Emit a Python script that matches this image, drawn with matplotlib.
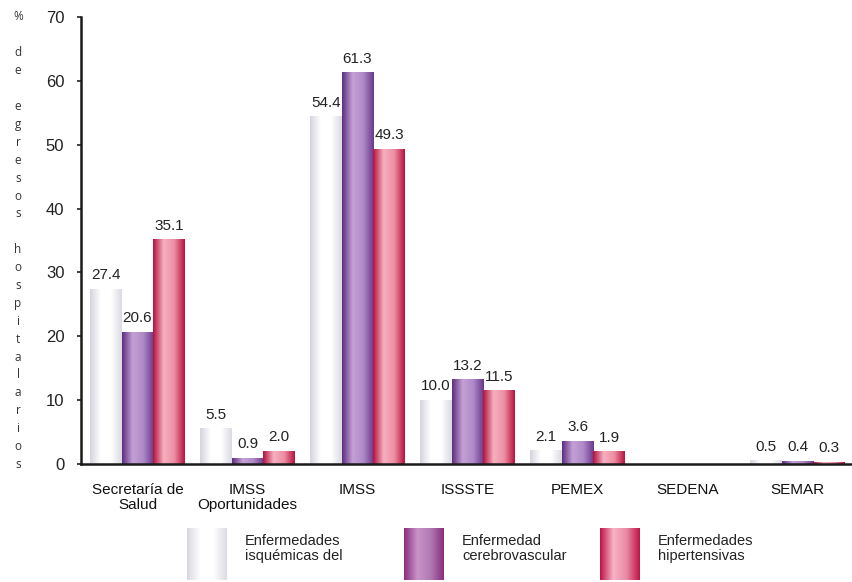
import numpy as np
import matplotlib
matplotlib.use('Agg')
import matplotlib.pyplot as plt
from matplotlib.colors import LinearSegmentedColormap

# data
categories = ['Secretaría de\nSalud', 'IMSS\nOportunidades', 'IMSS', 'ISSSTE', 'PEMEX', 'SEDENA', 'SEMAR']
isquemicas = [27.4, 5.5, 54.4, 10.0, 2.1, None, 0.5]
cerebrovascular = [20.6, 0.9, 61.3, 13.2, 3.6, None, 0.4]
hipertensivas = [35.1, 2.0, 49.3, 11.5, 1.9, None, 0.3]
series_names = ['Enfermedades\nisquémicas del', 'Enfermedad\ncerebrovascular', 'Enfermedades\nhipertensivas']
y_ticks = [0, 10, 20, 30, 40, 50, 60, 70]
ylabel_text = '% de egresos hospitalarios'

# cylinder-like gradients (edge, highlight, edge)
gradients = [
    ['#d4d4e0', '#ffffff', '#ffffff', '#dadae4'],
    ['#5e2f80', '#c4a0d6', '#b08ac8', '#6a3a8c'],
    ['#b5123f', '#f6b0c0', '#ee8ea4', '#b8163f'],
]
legend_gradients = [
    ['#d8d8e2', '#ffffff', '#ffffff', '#dcdce4'],
    ['#8a2f80', '#c993c8', '#b27ab4', '#8a2f80'],
    ['#bf1448', '#f7b3c6', '#e88aa4', '#bf1448'],
]
cmaps = [LinearSegmentedColormap.from_list('g%d' % i, g) for i, g in enumerate(gradients)]
leg_cmaps = [LinearSegmentedColormap.from_list('l%d' % i, g) for i, g in enumerate(legend_gradients)]

plt.rcParams['font.family'] = ['Liberation Sans', 'DejaVu Sans']

fig = plt.figure(figsize=(8.52, 5.82), dpi=100)
ax = fig.add_axes([81 / 852, 1 - 464 / 582, 1 - 81 / 852, (464 - 17) / 582])

x = np.arange(len(categories))
width = 0.286
grad = np.linspace(0, 1, 64).reshape(1, -1)

for i, vals in enumerate([isquemicas, cerebrovascular, hipertensivas]):
    heights = [v if v is not None else 0 for v in vals]
    bars = ax.bar(x + (i - 1) * width, heights, width, color='none', edgecolor='none')
    for b, v in zip(bars, vals):
        if v is None:
            continue
        x0 = b.get_x()
        ax.imshow(grad, cmap=cmaps[i], extent=(x0, x0 + b.get_width(), 0, v),
                  aspect='auto', zorder=2, interpolation='bilinear')
        ax.text(x0 + b.get_width() / 2, v + 1.1, '%.1f' % v, ha='center', va='bottom',
                fontsize=11, color='#222222', clip_on=False)

ax.set_xlim(-0.514, 6.495)
ax.set_ylim(0, 70)
ax.set_yticks(y_ticks)
ax.set_yticklabels([str(t) for t in y_ticks], fontsize=12, color='#333333')
ax.set_xticks(x)
ax.set_xticklabels(categories, fontsize=11, color='#111111', linespacing=1.05)
ax.tick_params(axis='x', length=0, pad=14)
ax.tick_params(axis='y', length=3, width=1.2, pad=9, colors='#222222')
for s in ['top', 'right']:
    ax.spines[s].set_visible(False)
for s in ['left', 'bottom']:
    ax.spines[s].set_linewidth(1.8)
    ax.spines[s].set_color('#1a1a1a')

# stacked vertical y-label
for k, ch in enumerate(ylabel_text):
    if ch != ' ':
        fig.text(18 / 852, 1 - (17 + k * 17.9) / 582, ch, ha='center', va='center',
                 fontsize=8.5, color='#333333', family=['Open Sans', 'DejaVu Sans'])

# legend below the chart
legend_x = [187, 404, 600]
for i, lx in enumerate(legend_x):
    lax = fig.add_axes([lx / 852, 1 - 580 / 582, 40 / 852, 52 / 582])
    lax.imshow(grad, cmap=leg_cmaps[i], aspect='auto', interpolation='bilinear')
    lax.axis('off')
    fig.text((lx + 58) / 852, 1 - 534 / 582, series_names[i], ha='left', va='top',
             fontsize=10.5, color='#222222', linespacing=1.05)

fig.savefig('out.png', dpi=100)
